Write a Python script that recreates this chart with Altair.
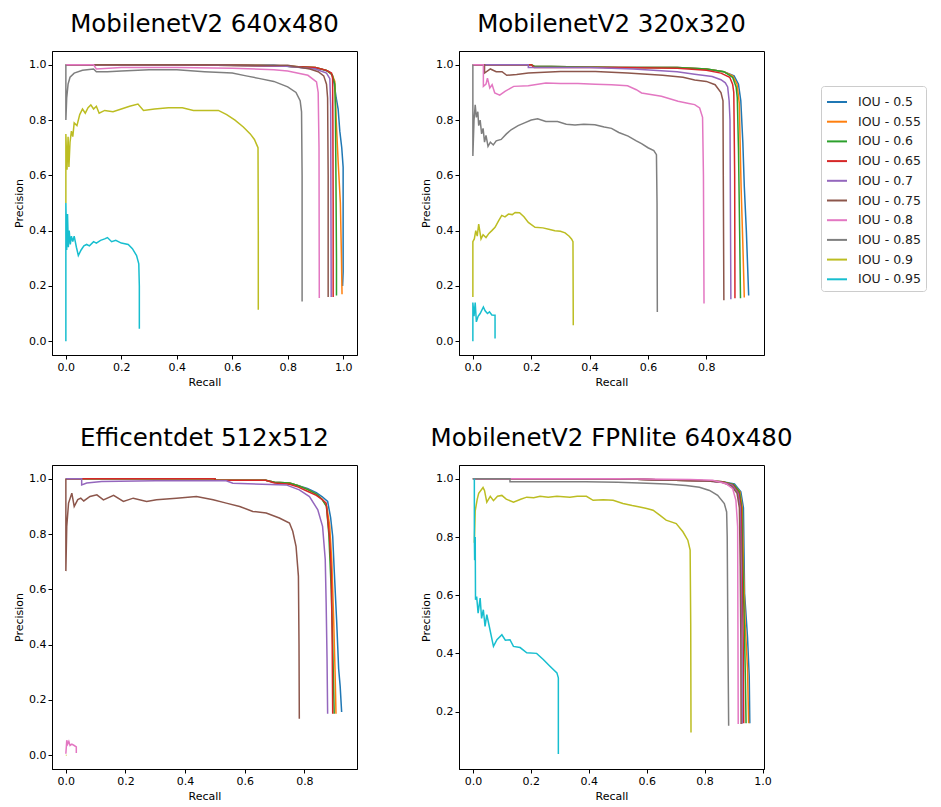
import altair as alt
import pandas as pd

IOU_LABELS = ["IOU - 0.5", "IOU - 0.55", "IOU - 0.6", "IOU - 0.65", "IOU - 0.7",
              "IOU - 0.75", "IOU - 0.8", "IOU - 0.85", "IOU - 0.9", "IOU - 0.95"]
COLORS = ["#1f77b4", "#ff7f0e", "#2ca02c", "#d62728", "#9467bd",
          "#8c564b", "#e377c2", "#7f7f7f", "#bcbd22", "#17becf"]
TITLES = ["MobilenetV2 640x480", "MobilenetV2 320x320",
          "Efficentdet 512x512", "MobilenetV2 FPNlite 640x480"]
X_DOMAINS = [[-0.05, 1.05], [-0.0475, 0.9975], [-0.0465, 0.9765], [-0.048, 1.005]]
Y_DOMAINS = [[-0.05, 1.05], [-0.05, 1.05], [-0.05, 1.05], [0.0025, 1.0475]]
X_TICKS = [[0, 0.2, 0.4, 0.6, 0.8, 1.0], [0, 0.2, 0.4, 0.6, 0.8],
           [0, 0.2, 0.4, 0.6, 0.8], [0, 0.2, 0.4, 0.6, 0.8, 1.0]]
Y_TICKS = [[0, 0.2, 0.4, 0.6, 0.8, 1.0], [0, 0.2, 0.4, 0.6, 0.8, 1.0],
           [0, 0.2, 0.4, 0.6, 0.8, 1.0], [0.2, 0.4, 0.6, 0.8, 1.0]]

# ---------------- Panel 1: MobilenetV2 640x480 (recall, precision) ----------------
A_050 = [(0, 1.0), (0.2, 1.0), (0.5, 1.0), (0.75, 0.998), (0.85, 0.99), (0.92, 0.985), (0.95, 0.975),
         (0.962, 0.96), (0.968, 0.93), (0.975, 0.88), (0.982, 0.84), (0.988, 0.76), (0.995, 0.7),
         (1.0, 0.63), (1.0, 0.4), (1.0, 0.25), (0.998, 0.2)]
A_055 = [(0, 1.0), (0.3, 1.0), (0.6, 1.0), (0.8, 0.995), (0.9, 0.99), (0.94, 0.98), (0.96, 0.965),
         (0.97, 0.94), (0.975, 0.8), (0.982, 0.65), (0.99, 0.5), (0.994, 0.3), (0.996, 0.17)]
A_060 = [(0, 1.0), (0.4, 1.0), (0.8, 0.995), (0.9, 0.99), (0.94, 0.98), (0.96, 0.965), (0.97, 0.93),
         (0.972, 0.85), (0.974, 0.6), (0.976, 0.3), (0.976, 0.165)]
A_065 = [(0, 1.0), (0.4, 1.0), (0.8, 0.995), (0.9, 0.99), (0.94, 0.98), (0.958, 0.97), (0.962, 0.95),
         (0.963, 0.8), (0.964, 0.5), (0.964, 0.16)]
A_070 = [(0, 1.0), (0.5, 1.0), (0.8, 0.995), (0.9, 0.985), (0.94, 0.97), (0.952, 0.95), (0.955, 0.85),
         (0.956, 0.5), (0.957, 0.16)]
A_075 = [(0, 1.0), (0.1, 1.0), (0.5, 1.0), (0.8, 0.998), (0.88, 0.985), (0.91, 0.975), (0.93, 0.96),
         (0.94, 0.93), (0.944, 0.88), (0.946, 0.6), (0.946, 0.16)]
A_080 = [(0, 1.0), (0.1, 1.0), (0.11, 0.985), (0.2, 0.99), (0.4, 0.99), (0.6, 0.988), (0.75, 0.982),
         (0.8, 0.978), (0.873, 0.962), (0.904, 0.938), (0.91, 0.9), (0.913, 0.7), (0.914, 0.156)]
A_085 = [(0, 1.0), (0, 0.8), (0.003, 0.88), (0.008, 0.93), (0.015, 0.955), (0.03, 0.97), (0.06, 0.98),
         (0.1, 0.985), (0.11, 0.975), (0.15, 0.975), (0.2, 0.978), (0.3, 0.982), (0.4, 0.982),
         (0.5, 0.975), (0.6, 0.97), (0.65, 0.96), (0.7, 0.95), (0.75, 0.94), (0.8, 0.92), (0.83, 0.9),
         (0.845, 0.87), (0.85, 0.83), (0.852, 0.6), (0.852, 0.144)]
A_090 = [(0, 0.5), (0, 0.75), (0.004, 0.62), (0.008, 0.74), (0.011, 0.63), (0.015, 0.72), (0.02, 0.76),
         (0.025, 0.74), (0.03, 0.79), (0.04, 0.78), (0.05, 0.82), (0.06, 0.84), (0.07, 0.825),
         (0.08, 0.845), (0.09, 0.855), (0.1, 0.84), (0.11, 0.85), (0.12, 0.825), (0.14, 0.835),
         (0.17, 0.83), (0.2, 0.84), (0.23, 0.85), (0.26, 0.858), (0.28, 0.835), (0.32, 0.84),
         (0.37, 0.845), (0.42, 0.845), (0.46, 0.835), (0.5, 0.835), (0.55, 0.835), (0.58, 0.82),
         (0.61, 0.8), (0.64, 0.775), (0.665, 0.75), (0.68, 0.73), (0.693, 0.7), (0.694, 0.4),
         (0.694, 0.114)]
A_095 = [(0, 0), (0, 0.5), (0.003, 0.33), (0.006, 0.46), (0.009, 0.34), (0.012, 0.4), (0.016, 0.35),
         (0.02, 0.38), (0.025, 0.36), (0.03, 0.38), (0.038, 0.34), (0.045, 0.31), (0.055, 0.33),
         (0.065, 0.345), (0.075, 0.35), (0.085, 0.345), (0.1, 0.36), (0.11, 0.355), (0.125, 0.365),
         (0.14, 0.37), (0.15, 0.375), (0.165, 0.36), (0.18, 0.365), (0.2, 0.355), (0.225, 0.35),
         (0.24, 0.335), (0.255, 0.31), (0.263, 0.28), (0.265, 0.2), (0.265, 0.045)]

# ---------------- Panel 2: MobilenetV2 320x320 ----------------
B_050 = [(0, 1.0), (0.2, 1.0), (0.21, 0.995), (0.5, 0.99), (0.7, 0.99), (0.8, 0.985), (0.86, 0.975),
         (0.895, 0.96), (0.91, 0.93), (0.918, 0.87), (0.925, 0.72), (0.93, 0.56), (0.937, 0.4),
         (0.945, 0.165)]
B_055 = [(0, 1.0), (0.2, 1.0), (0.21, 0.995), (0.5, 0.99), (0.7, 0.99), (0.8, 0.985), (0.86, 0.975),
         (0.89, 0.96), (0.905, 0.93), (0.913, 0.86), (0.916, 0.7), (0.919, 0.56), (0.925, 0.35),
         (0.93, 0.158)]
B_060 = [(0, 1.0), (0.2, 1.0), (0.21, 0.995), (0.5, 0.99), (0.7, 0.99), (0.8, 0.985), (0.86, 0.975),
         (0.89, 0.955), (0.902, 0.92), (0.906, 0.88), (0.91, 0.7), (0.914, 0.4), (0.917, 0.155)]
B_065 = [(0, 1.0), (0.2, 1.0), (0.21, 0.99), (0.5, 0.99), (0.7, 0.988), (0.8, 0.98), (0.85, 0.97),
         (0.88, 0.955), (0.89, 0.93), (0.894, 0.9), (0.897, 0.6), (0.898, 0.155)]
B_070 = [(0, 1.0), (0.19, 1.0), (0.19, 0.99), (0.4, 0.99), (0.55, 0.985), (0.7, 0.975), (0.76, 0.966),
         (0.82, 0.958), (0.85, 0.946), (0.865, 0.935), (0.873, 0.92), (0.878, 0.87), (0.881, 0.8),
         (0.884, 0.152)]
B_075 = [(0, 1.0), (0.04, 1.0), (0.04, 0.97), (0.06, 0.985), (0.08, 0.975), (0.1, 0.975),
         (0.116, 0.962), (0.15, 0.965), (0.19, 0.97), (0.3, 0.976), (0.42, 0.976), (0.53, 0.97),
         (0.65, 0.962), (0.72, 0.955), (0.76, 0.945), (0.8, 0.94), (0.83, 0.928), (0.85, 0.9),
         (0.857, 0.87), (0.858, 0.6), (0.86, 0.148)]
B_080 = [(0, 1.0), (0.036, 1.0), (0.036, 0.922), (0.045, 0.93), (0.05, 0.952), (0.058, 0.916),
         (0.066, 0.928), (0.075, 0.898), (0.092, 0.89), (0.11, 0.904), (0.14, 0.922), (0.19, 0.924),
         (0.25, 0.934), (0.3, 0.932), (0.36, 0.932), (0.42, 0.93), (0.475, 0.928), (0.53, 0.924),
         (0.56, 0.91), (0.578, 0.898), (0.646, 0.886), (0.703, 0.868), (0.74, 0.86), (0.76, 0.856),
         (0.777, 0.844), (0.787, 0.81), (0.79, 0.6), (0.792, 0.136)]
B_085 = [(0, 1.0), (0, 0.67), (0.004, 0.8), (0.008, 0.855), (0.012, 0.81), (0.017, 0.83), (0.02, 0.78),
         (0.025, 0.8), (0.03, 0.75), (0.035, 0.77), (0.04, 0.72), (0.045, 0.745), (0.052, 0.705),
         (0.06, 0.72), (0.07, 0.71), (0.08, 0.725), (0.097, 0.73), (0.115, 0.75), (0.131, 0.765),
         (0.155, 0.78), (0.177, 0.79), (0.2, 0.8), (0.222, 0.805), (0.25, 0.795), (0.29, 0.795),
         (0.32, 0.785), (0.35, 0.782), (0.38, 0.785), (0.418, 0.783), (0.45, 0.775), (0.475, 0.77),
         (0.5, 0.755), (0.532, 0.742), (0.56, 0.725), (0.578, 0.715), (0.6, 0.7), (0.62, 0.69),
         (0.629, 0.675), (0.631, 0.5), (0.632, 0.106)]
B_090 = [(0, 0.16), (0, 0.36), (0.005, 0.37), (0.01, 0.4), (0.015, 0.38), (0.02, 0.424), (0.025, 0.39),
         (0.028, 0.37), (0.035, 0.385), (0.045, 0.375), (0.055, 0.39), (0.065, 0.4), (0.076, 0.412),
         (0.088, 0.435), (0.099, 0.455), (0.11, 0.45), (0.122, 0.46), (0.135, 0.458), (0.145, 0.466),
         (0.16, 0.465), (0.175, 0.45), (0.19, 0.43), (0.213, 0.412), (0.24, 0.41), (0.26, 0.405),
         (0.281, 0.4), (0.3, 0.398), (0.316, 0.392), (0.33, 0.38), (0.338, 0.37), (0.343, 0.36),
         (0.344, 0.058)]
B_095 = [(0, 0.0), (0, 0.14), (0.004, 0.09), (0.008, 0.14), (0.012, 0.07), (0.018, 0.09), (0.025, 0.1),
         (0.036, 0.124), (0.042, 0.11), (0.05, 0.1), (0.057, 0.106), (0.065, 0.095), (0.076, 0.094),
         (0.076, 0.01)]

# ---------------- Panel 3: Efficentdet 512x512 ----------------
C_050 = [(0, 1.0), (0.3, 1.0), (0.5, 1.0), (0.5, 0.995), (0.67, 0.995), (0.7, 0.988), (0.75, 0.985),
         (0.78, 0.975), (0.81, 0.965), (0.84, 0.95), (0.86, 0.935), (0.878, 0.918), (0.888, 0.86),
         (0.895, 0.792), (0.9, 0.672), (0.908, 0.492), (0.915, 0.312), (0.92, 0.25), (0.925, 0.156)]
C_055 = [(0, 1.0), (0.5, 1.0), (0.5, 0.995), (0.67, 0.995), (0.7, 0.988), (0.75, 0.985), (0.78, 0.975),
         (0.81, 0.962), (0.84, 0.945), (0.86, 0.925), (0.875, 0.9), (0.885, 0.83), (0.892, 0.7),
         (0.898, 0.5), (0.903, 0.3), (0.906, 0.15)]
C_060 = [(0, 1.0), (0.5, 1.0), (0.5, 0.995), (0.67, 0.995), (0.7, 0.988), (0.75, 0.985), (0.78, 0.975),
         (0.81, 0.962), (0.84, 0.945), (0.86, 0.925), (0.874, 0.9), (0.882, 0.8), (0.89, 0.6),
         (0.895, 0.4), (0.9, 0.15)]
C_065 = [(0, 1.0), (0.5, 1.0), (0.5, 0.995), (0.67, 0.995), (0.7, 0.985), (0.75, 0.98), (0.78, 0.97),
         (0.81, 0.955), (0.84, 0.94), (0.86, 0.925), (0.873, 0.912), (0.884, 0.792), (0.89, 0.672),
         (0.893, 0.45), (0.895, 0.15)]
C_070 = [(0, 1.0), (0.053, 1.0), (0.053, 0.978), (0.07, 0.985), (0.12, 0.99), (0.3, 0.993),
         (0.538, 0.993), (0.56, 0.984), (0.739, 0.978), (0.783, 0.96), (0.817, 0.936), (0.845, 0.888),
         (0.861, 0.828), (0.87, 0.708), (0.873, 0.552), (0.876, 0.35), (0.878, 0.15)]
C_075 = [(0, 1.0), (0, 0.666), (0.003, 0.828), (0.009, 0.912), (0.02, 0.948), (0.028, 0.9), (0.04, 0.925),
         (0.05, 0.93), (0.06, 0.92), (0.081, 0.936), (0.104, 0.942), (0.126, 0.924), (0.16, 0.94),
         (0.193, 0.918), (0.226, 0.93), (0.271, 0.918), (0.304, 0.924), (0.371, 0.93), (0.438, 0.936),
         (0.494, 0.924), (0.538, 0.912), (0.583, 0.9), (0.627, 0.882), (0.672, 0.876), (0.716, 0.858),
         (0.75, 0.84), (0.761, 0.81), (0.772, 0.756), (0.78, 0.648), (0.782, 0.4), (0.783, 0.132)]
C_080 = [(0, 0.005), (0.003, 0.054), (0.006, 0.04), (0.01, 0.05), (0.014, 0.035), (0.02, 0.04),
         (0.028, 0.035), (0.035, 0.03), (0.035, 0.008)]
C_085 = []
C_090 = [(0, 0.0), (0.002, 0.0)]
C_095 = []

# ---------------- Panel 4: MobilenetV2 FPNlite 640x480 ----------------
D_050 = [(0, 1.0), (0.5, 1.0), (0.7, 0.995), (0.8, 0.993), (0.862, 0.99), (0.903, 0.982), (0.925, 0.955),
         (0.934, 0.9), (0.936, 0.75), (0.938, 0.606), (0.948, 0.457), (0.954, 0.32), (0.956, 0.16)]
D_055 = [(0, 1.0), (0.5, 1.0), (0.7, 0.995), (0.8, 0.993), (0.862, 0.99), (0.9, 0.98), (0.922, 0.955),
         (0.93, 0.9), (0.934, 0.7), (0.94, 0.5), (0.948, 0.35), (0.952, 0.16)]
D_060 = [(0, 1.0), (0.5, 1.0), (0.7, 0.995), (0.8, 0.993), (0.862, 0.99), (0.9, 0.98), (0.92, 0.955),
         (0.928, 0.9), (0.932, 0.7), (0.937, 0.5), (0.941, 0.3), (0.943, 0.16)]
D_065 = [(0, 1.0), (0.5, 1.0), (0.7, 0.995), (0.8, 0.993), (0.86, 0.99), (0.898, 0.978), (0.918, 0.95),
         (0.926, 0.9), (0.929, 0.7), (0.933, 0.45), (0.935, 0.16)]
D_070 = [(0, 1.0), (0.5, 1.0), (0.7, 0.995), (0.8, 0.993), (0.86, 0.988), (0.895, 0.978), (0.915, 0.95),
         (0.923, 0.9), (0.926, 0.7), (0.929, 0.45), (0.93, 0.158)]
D_075 = [(0, 1.0), (0.5, 1.0), (0.7, 0.995), (0.8, 0.993), (0.86, 0.988), (0.893, 0.975), (0.912, 0.95),
         (0.92, 0.9), (0.923, 0.7), (0.925, 0.45), (0.926, 0.157)]
D_080 = [(0, 1.0), (0.14, 1.0), (0.5, 1.0), (0.75, 0.998), (0.828, 0.995), (0.874, 0.983), (0.897, 0.966),
         (0.908, 0.926), (0.914, 0.835), (0.915, 0.5), (0.916, 0.157)]
D_085 = [(0, 1.0), (0.128, 1.0), (0.128, 0.99), (0.39, 0.99), (0.5, 0.988), (0.6, 0.985), (0.667, 0.982),
         (0.736, 0.977), (0.782, 0.971), (0.817, 0.96), (0.845, 0.943), (0.868, 0.915), (0.876, 0.886),
         (0.878, 0.8), (0.88, 0.5), (0.883, 0.151)]
D_090 = [(0.005, 0.78), (0.008, 0.89), (0.015, 0.93), (0.02, 0.95), (0.035, 0.97), (0.04, 0.96),
         (0.048, 0.92), (0.06, 0.94), (0.071, 0.925), (0.085, 0.94), (0.1, 0.943), (0.115, 0.93),
         (0.14, 0.92), (0.165, 0.93), (0.186, 0.937), (0.21, 0.935), (0.232, 0.94), (0.26, 0.937),
         (0.29, 0.94), (0.335, 0.937), (0.36, 0.94), (0.392, 0.94), (0.415, 0.926), (0.45, 0.928),
         (0.484, 0.926), (0.518, 0.915), (0.55, 0.908), (0.576, 0.903), (0.6, 0.898), (0.622, 0.892),
         (0.645, 0.875), (0.667, 0.858), (0.702, 0.846), (0.725, 0.818), (0.742, 0.789), (0.75, 0.755),
         (0.752, 0.5), (0.753, 0.128)]
D_095 = [(0.005, 1.0), (0.005, 0.8), (0.006, 0.72), (0.008, 0.8), (0.009, 0.584), (0.013, 0.595),
         (0.018, 0.538), (0.025, 0.59), (0.03, 0.52), (0.036, 0.55), (0.042, 0.493), (0.048, 0.533),
         (0.055, 0.5), (0.066, 0.447), (0.071, 0.424), (0.083, 0.447), (0.1, 0.464), (0.112, 0.445),
         (0.128, 0.447), (0.14, 0.424), (0.163, 0.42), (0.186, 0.402), (0.22, 0.4), (0.243, 0.379),
         (0.266, 0.356), (0.29, 0.333), (0.295, 0.316), (0.295, 0.054)]

PANELS = [
    [A_050, A_055, A_060, A_065, A_070, A_075, A_080, A_085, A_090, A_095],
    [B_050, B_055, B_060, B_065, B_070, B_075, B_080, B_085, B_090, B_095],
    [C_050, C_055, C_060, C_065, C_070, C_075, C_080, C_085, C_090, C_095],
    [D_050, D_055, D_060, D_065, D_070, D_075, D_080, D_085, D_090, D_095],
]


def panel_chart(k):
    rows = []
    for label, curve in zip(IOU_LABELS, PANELS[k]):
        for i, (r, p) in enumerate(curve):
            rows.append({"iou": label, "i": i, "recall": r, "precision": p})
    df = pd.DataFrame(rows)
    return (
        alt.Chart(df)
        .mark_line(strokeWidth=1.5, clip=True)
        .encode(
            x=alt.X("recall:Q", title="Recall",
                    scale=alt.Scale(domain=X_DOMAINS[k], nice=False, zero=False),
                    axis=alt.Axis(values=X_TICKS[k], format=".1f")),
            y=alt.Y("precision:Q", title="Precision",
                    scale=alt.Scale(domain=Y_DOMAINS[k], nice=False, zero=False),
                    axis=alt.Axis(values=Y_TICKS[k], format=".1f")),
            color=alt.Color("iou:N", scale=alt.Scale(domain=IOU_LABELS, range=COLORS),
                            legend=alt.Legend(title=None)),
            order=alt.Order("i:Q"),
        )
        .properties(width=305, height=304,
                    title=alt.TitleParams(TITLES[k], fontSize=24.5, fontWeight="normal",
                                          anchor="middle", offset=14, color="black"))
    )


top = alt.hconcat(panel_chart(0), panel_chart(1), spacing=62)
bottom = alt.hconcat(panel_chart(2), panel_chart(3), spacing=62)
chart = (
    alt.vconcat(top, bottom, spacing=37)
    .properties(padding={"left": 5, "top": 3, "right": 0, "bottom": 0})
    .configure(font="DejaVu Sans")
    .configure_view(stroke="black", strokeWidth=1)
    .configure_axis(grid=False, domainColor="black", tickColor="black", labelColor="black",
                    titleColor="black", labelFontSize=11, titleFontSize=11,
                    titleFontWeight="normal", tickSize=4, labelPadding=2, titlePadding=4,
                    labelFont="DejaVu Sans", titleFont="DejaVu Sans")
    .configure_legend(orient="none", legendX=769, legendY=35, strokeColor="#cccccc",
                      cornerRadius=3, padding=5, fillColor="white", symbolType="stroke",
                      symbolStrokeWidth=2, symbolSize=400, labelFontSize=12.5,
                      labelFont="DejaVu Sans", labelColor="#222222", rowPadding=1.7,
                      labelOffset=10)
)

chart.save("out.html", embed_options={"renderer": "svg", "actions": False})
